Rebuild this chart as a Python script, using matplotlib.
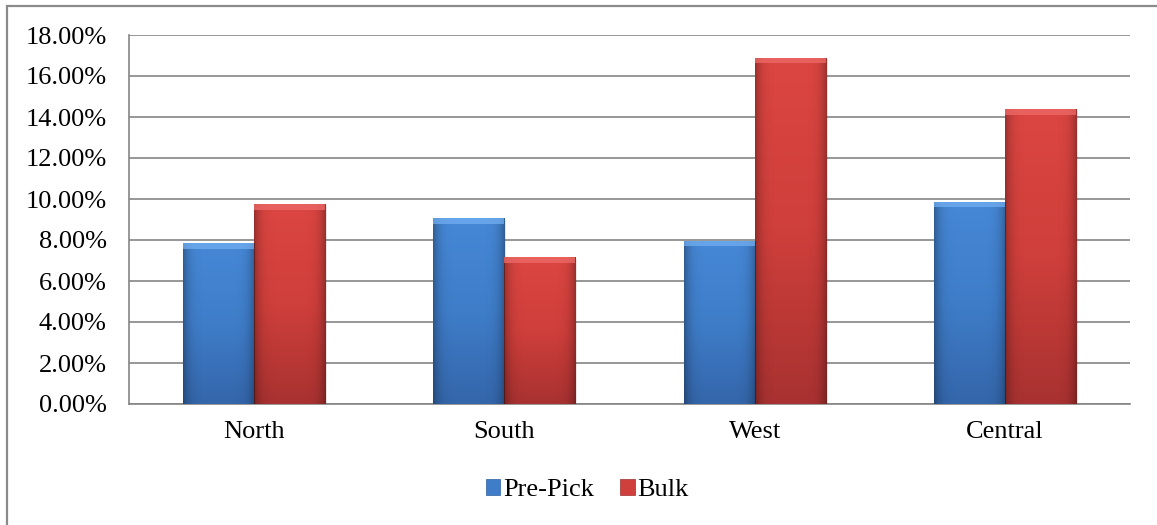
import matplotlib
matplotlib.use("Agg")
import matplotlib.pyplot as plt
import numpy as np
from matplotlib.patches import Rectangle
from matplotlib.colors import LinearSegmentedColormap
from matplotlib.ticker import FuncFormatter

categories = ["North", "South", "West", "Central"]
pre_pick = [7.84, 9.07, 7.97, 9.87]
bulk = [9.74, 7.17, 16.89, 14.39]
series_names = ["Pre-Pick", "Bulk"]
y_ticks = [0, 2, 4, 6, 8, 10, 12, 14, 16, 18]

plt.rcParams["font.family"] = ["Liberation Serif", "DejaVu Serif"]
FS = 19

fig = plt.figure(figsize=(11.57, 5.25), dpi=100)
ax = fig.add_axes([129/1157, 1 - 404/525, (1130-129)/1157, (404-35)/525])

# outer chart border (extends beyond image on right/bottom)
fig.patches.append(Rectangle((7/1157, -0.05), 1.2, 1 - 6/525 + 0.05,
                             transform=fig.transFigure, fill=False,
                             edgecolor="#8a8a8a", linewidth=1.6, zorder=0))

x = np.arange(len(categories))
w = 0.284
blue_cmap = LinearSegmentedColormap.from_list("b", ["#4688d6", "#3f7dc9", "#3466aa"])
red_cmap = LinearSegmentedColormap.from_list("r", ["#dc4642", "#cf3f3b", "#a83231"])

def draw_bars(xs, vals, base, cmap, top_col, label):
    bars = ax.bar(xs, vals, w, color=base, edgecolor="none", label=label, zorder=3)
    for b in bars:
        x0 = b.get_x()
        bw, bh = b.get_width(), b.get_height()
        # soft shadow
        ax.add_patch(Rectangle((x0 + 0.008, -0.08), bw, bh, facecolor="#000000",
                               alpha=0.10, edgecolor="none", zorder=2))
        grad = np.linspace(0, 1, 256).reshape(-1, 1)
        im = ax.imshow(grad, aspect="auto", cmap=cmap, origin="upper",
                       extent=[x0, x0 + bw, 0, bh], zorder=3.1)
        im.set_clip_path(b)
        # darker sides
        hgrad = np.abs(np.linspace(-1, 1, 64)).reshape(1, -1) ** 6
        rgba = np.zeros((1, 64, 4))
        rgba[..., 3] = hgrad * 0.30
        im2 = ax.imshow(rgba, aspect="auto", extent=[x0, x0 + bw, 0, bh], zorder=3.2)
        im2.set_clip_path(b)
        # top bevel
        ax.add_patch(Rectangle((x0, bh - 0.28), bw, 0.28, facecolor=top_col,
                               alpha=0.75, edgecolor="none", zorder=3.3))
    return bars

draw_bars(x - w/2, pre_pick, "#3f7dc9", blue_cmap, "#72aef0", series_names[0])
draw_bars(x + w/2, bulk, "#cf3f3b", red_cmap, "#ee6b68", series_names[1])

ax.set_xlim(-0.5, len(categories) - 0.5)
ax.set_ylim(0, 18)
ax.set_yticks(y_ticks)
ax.yaxis.set_major_formatter(FuncFormatter(lambda v, p: f"{v:.2f}%"))
ax.set_xticks(x)
ax.set_xticklabels(categories)
ax.tick_params(axis="both", length=0, labelsize=FS, colors="black")
ax.tick_params(axis="y", pad=16)
ax.tick_params(axis="x", pad=12)
ax.grid(axis="y", color="#858585", linewidth=1.2, zorder=1)
ax.set_axisbelow(True)
for s in ["top", "right"]:
    ax.spines[s].set_visible(False)
for s in ["left", "bottom"]:
    ax.spines[s].set_color("#858585")
    ax.spines[s].set_linewidth(1.2)

handles = [Rectangle((0, 0), 1, 1, facecolor="#3f7dc9", edgecolor="#2f5f9f", linewidth=0.5),
           Rectangle((0, 0), 1, 1, facecolor="#cf3f3b", edgecolor="#9f2f2f", linewidth=0.5)]
fig.legend(handles, series_names, loc="center", bbox_to_anchor=(587/1157, 1 - 490/525),
           ncol=2, frameon=False, fontsize=FS, handlelength=0.55, handleheight=0.55,
           handletextpad=0.1, columnspacing=1.0)

fig.savefig("out.png", dpi=100)
